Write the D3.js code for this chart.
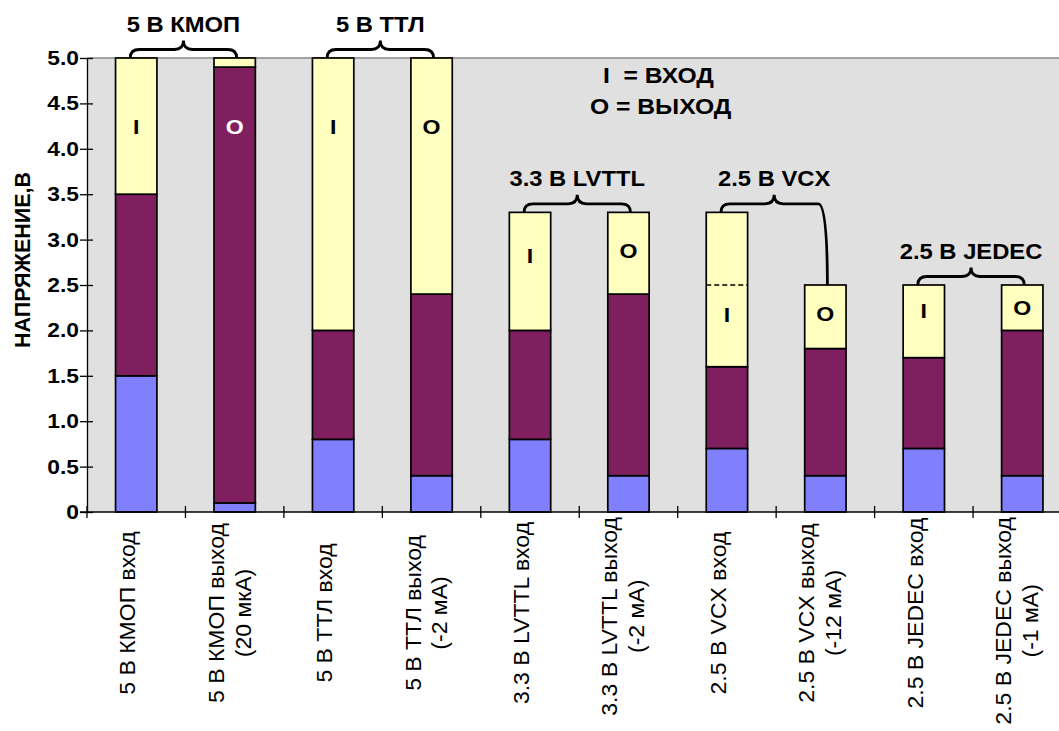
<!DOCTYPE html>
<html>
<head>
<meta charset="utf-8">
<script src="https://cdn.jsdelivr.net/npm/d3@7"></script>
<style>
  html, body { margin: 0; padding: 0; background: #ffffff; }
  svg { display: block; font-family: "Liberation Sans", Arial, sans-serif; }
</style>
</head>
<body>
<svg id="chart" width="1059" height="731"></svg>
<script>
// Categories (x-axis labels, split into lines)
const categories = [
  ["5 В КМОП вход"],
  ["5 В КМОП выход", "(20 мкА)"],
  ["5 В ТТЛ вход"],
  ["5 В ТТЛ выход", "(-2 мА)"],
  ["3.3 В LVTTL вход"],
  ["3.3 В LVTTL выход", "(-2 мА)"],
  ["2.5 В VCX вход"],
  ["2.5 В VCX выход", "(-12 мА)"],
  ["2.5 В JEDEC вход"],
  ["2.5 В JEDEC выход", "(-1 мА)"]
];
// Voltage levels, V: top of low band, top of middle band, top of high band
const lowLevel  = [1.5, 0.1, 0.8, 0.4, 0.8, 0.4, 0.7, 0.4, 0.7, 0.4];
const midLevel  = [3.5, 4.9, 2.0, 2.4, 2.0, 2.4, 1.6, 1.8, 1.7, 2.0];
const highLevel = [5.0, 5.0, 5.0, 5.0, 3.3, 3.3, 3.3, 2.5, 2.5, 2.5];
// I/O markers and their vertical position (V)
const ioMarks = ["I", "O", "I", "O", "I", "O", "I", "O", "I", "O"];
const ioPos   = [4.25, 4.25, 4.25, 4.25, 2.83, 2.88, 2.18, 2.19, 2.22, 2.25];
// Dashed reference level inside the VCX input bar
const dashedLevel = [{ index: 6, value: 2.5 }];
// Family groups with braces
const groups = [
  { label: "5 В КМОП", a: 0, b: 1 },
  { label: "5 В ТТЛ", a: 2, b: 3 },
  { label: "3.3 В LVTTL", a: 4, b: 5 },
  { label: "2.5 В VCX", a: 6, b: 7 },
  { label: "2.5 В JEDEC", a: 8, b: 9 }
];
const yTicks = [0, 0.5, 1.0, 1.5, 2.0, 2.5, 3.0, 3.5, 4.0, 4.5, 5.0];
const legendLines = ["I  = ВХОД", "O = ВЫХОД"];
const yTitle = "НАПРЯЖЕНИЕ,В";

const colors = { low: "#8080ff", mid: "#7f1f5f", high: "#ffffc0" };

const svg = d3.select("#chart");
const W = 1059;
const plotLeft = 87, plotTop = 58, plotBottom = 512;
const step = 98.45;
const plotRight = plotLeft + step * categories.length;

const x = d3.scaleBand().domain(d3.range(categories.length)).range([plotLeft, plotRight]).padding(0);
const y = d3.scaleLinear().domain([0, 5]).range([plotBottom, plotTop]);
const barW = x.bandwidth() * 0.42;
const cx = i => x(i) + x.bandwidth() / 2;

// Stretch text along its baseline (the lettering is set wide)
function widen(sel, k) {
  sel.each(function () {
    const len = this.getComputedTextLength();
    d3.select(this).attr("textLength", len * k).attr("lengthAdjust", "spacingAndGlyphs");
  });
}

// Plot background
svg.append("rect").attr("x", plotLeft).attr("y", plotTop)
  .attr("width", W - plotLeft).attr("height", plotBottom - plotTop).attr("fill", "#e0e0e0");
svg.append("line").attr("x1", plotLeft).attr("x2", W).attr("y1", plotTop).attr("y2", plotTop)
  .attr("stroke", "#8a8a8a").attr("stroke-width", 1.5);

// Stacked bars
const segs = [];
categories.forEach((c, i) => {
  segs.push({ i, y0: 0, y1: lowLevel[i], fill: colors.low });
  segs.push({ i, y0: lowLevel[i], y1: midLevel[i], fill: colors.mid });
  segs.push({ i, y0: midLevel[i], y1: highLevel[i], fill: colors.high });
});
svg.append("g").selectAll("rect").data(segs).join("rect")
  .attr("x", d => cx(d.i) - barW / 2)
  .attr("width", barW)
  .attr("y", d => y(d.y1))
  .attr("height", d => y(d.y0) - y(d.y1))
  .attr("fill", d => d.fill)
  .attr("stroke", "#000").attr("stroke-width", 1.7);

// Dashed level line
svg.append("g").selectAll("line").data(dashedLevel).join("line")
  .attr("x1", d => cx(d.index) - barW / 2)
  .attr("x2", d => cx(d.index) + barW / 2)
  .attr("y1", d => y(d.value)).attr("y2", d => y(d.value))
  .attr("stroke", "#000").attr("stroke-width", 1.6).attr("stroke-dasharray", "5,3");

// I / O markers
const io = svg.append("g").selectAll("text").data(ioMarks).join("text")
  .attr("x", (d, i) => cx(i))
  .attr("y", (d, i) => y(ioPos[i]))
  .attr("dy", "0.36em")
  .attr("text-anchor", "middle")
  .attr("font-size", 21).attr("font-weight", "bold")
  .attr("fill", (d, i) => midLevel[i] > ioPos[i] ? "#ffffff" : "#000000")
  .text(d => d);
widen(io, 1.1);

// Y axis
const yAxis = svg.append("g").attr("transform", `translate(${plotLeft},0)`)
  .call(d3.axisLeft(y).tickValues(yTicks)
    .tickFormat(d => d === 0 ? "0" : d.toFixed(1))
    .tickSizeInner(7).tickSizeOuter(0).tickPadding(1));
yAxis.select(".domain").attr("stroke", "#000").attr("stroke-width", 1.3);
yAxis.selectAll(".tick line").attr("x2", -7).attr("x1", 6).attr("stroke", "#000").attr("stroke-width", 1.3);
const yTickText = yAxis.selectAll(".tick text").attr("font-size", 20).attr("font-weight", "bold")
  .attr("font-family", "Liberation Sans, Arial, sans-serif").attr("fill", "#000");
widen(yTickText, 1.14);

// X axis line and boundary ticks
const xAxis = svg.append("g").attr("transform", `translate(0,${plotBottom})`)
  .call(d3.axisBottom(x).tickSize(0).tickFormat(""));
xAxis.select(".domain").attr("stroke", "#000").attr("stroke-width", 1.3)
  .attr("d", `M${plotLeft - 7},0H${W}`);
svg.append("g").selectAll("line").data(d3.range(categories.length + 1)).join("line")
  .attr("x1", d => plotLeft + d * x.step()).attr("x2", d => plotLeft + d * x.step())
  .attr("y1", plotBottom - 6).attr("y2", plotBottom + 6)
  .attr("stroke", "#000").attr("stroke-width", 1.3);

// Category labels (rotated); long labels are pushed down to clear the axis
const labelMid = 613, labelTopLimit = 517;
const lab = svg.append("g").selectAll("text").data(categories).join("text")
  .attr("text-anchor", "middle")
  .attr("font-size", 21.5);
const labLines = lab.selectAll("tspan").data(d => d).join("tspan")
  .attr("x", 0).attr("dy", (d, j) => j === 0 ? 0 : "1.25em")
  .text(d => d);
widen(labLines, 1.07);
lab.attr("transform", function (d, i) {
  const longest = d3.max(d3.select(this).selectAll("tspan").nodes(), n => +n.getAttribute("textLength"));
  const mid = Math.max(labelMid, labelTopLimit + longest / 2);
  return `translate(${cx(i) + (d.length > 1 ? -11 : -1)},${mid}) rotate(-90)`;
});

// Y axis title
svg.append("text")
  .attr("transform", `translate(30,260) rotate(-90)`)
  .attr("text-anchor", "middle")
  .attr("font-size", 21.5).attr("font-weight", "bold")
  .text(yTitle);

// Legend
const leg = svg.append("g").selectAll("text").data(legendLines).join("text")
  .attr("x", (d, i) => i === 0 ? 603 : 590)
  .attr("y", (d, i) => 83 + i * 31)
  .attr("font-size", 22).attr("font-weight", "bold")
  .style("white-space", "pre")
  .text(d => d);
widen(leg, 1.12);

// Group braces with titles
function bracePath(x1, yb1, x2, yb2, yLine, xm, yPeak) {
  const r = 9;
  return `M${x1},${yb1} Q${x1},${yLine} ${x1 + r},${yLine} L${xm - r},${yLine} ` +
         `Q${xm},${yLine} ${xm},${yPeak} Q${xm},${yLine} ${xm + r},${yLine} ` +
         `L${x2 - r},${yLine} Q${x2},${yLine} ${x2},${yb2}`;
}
const gG = svg.append("g");
groups.forEach(g => {
  const x1 = cx(g.a) - 6, x2 = cx(g.b) + 2;
  const yb1 = y(highLevel[g.a]), yb2 = y(highLevel[g.b]);
  const yLine = Math.min(yb1, yb2) - 8.5;
  const yPeak = yLine - 9;
  const xm = (x1 + x2) / 2;
  gG.append("path").attr("d", bracePath(x1, yb1, x2, yb2, yLine, xm, yPeak))
    .attr("fill", "none").attr("stroke", "#000").attr("stroke-width", 2.8);
  const t = gG.append("text").attr("x", xm).attr("y", yPeak - 8.5)
    .attr("text-anchor", "middle").attr("font-size", 22).attr("font-weight", "bold")
    .text(g.label);
  widen(t, 1.08);
});
</script>
</body>
</html>
